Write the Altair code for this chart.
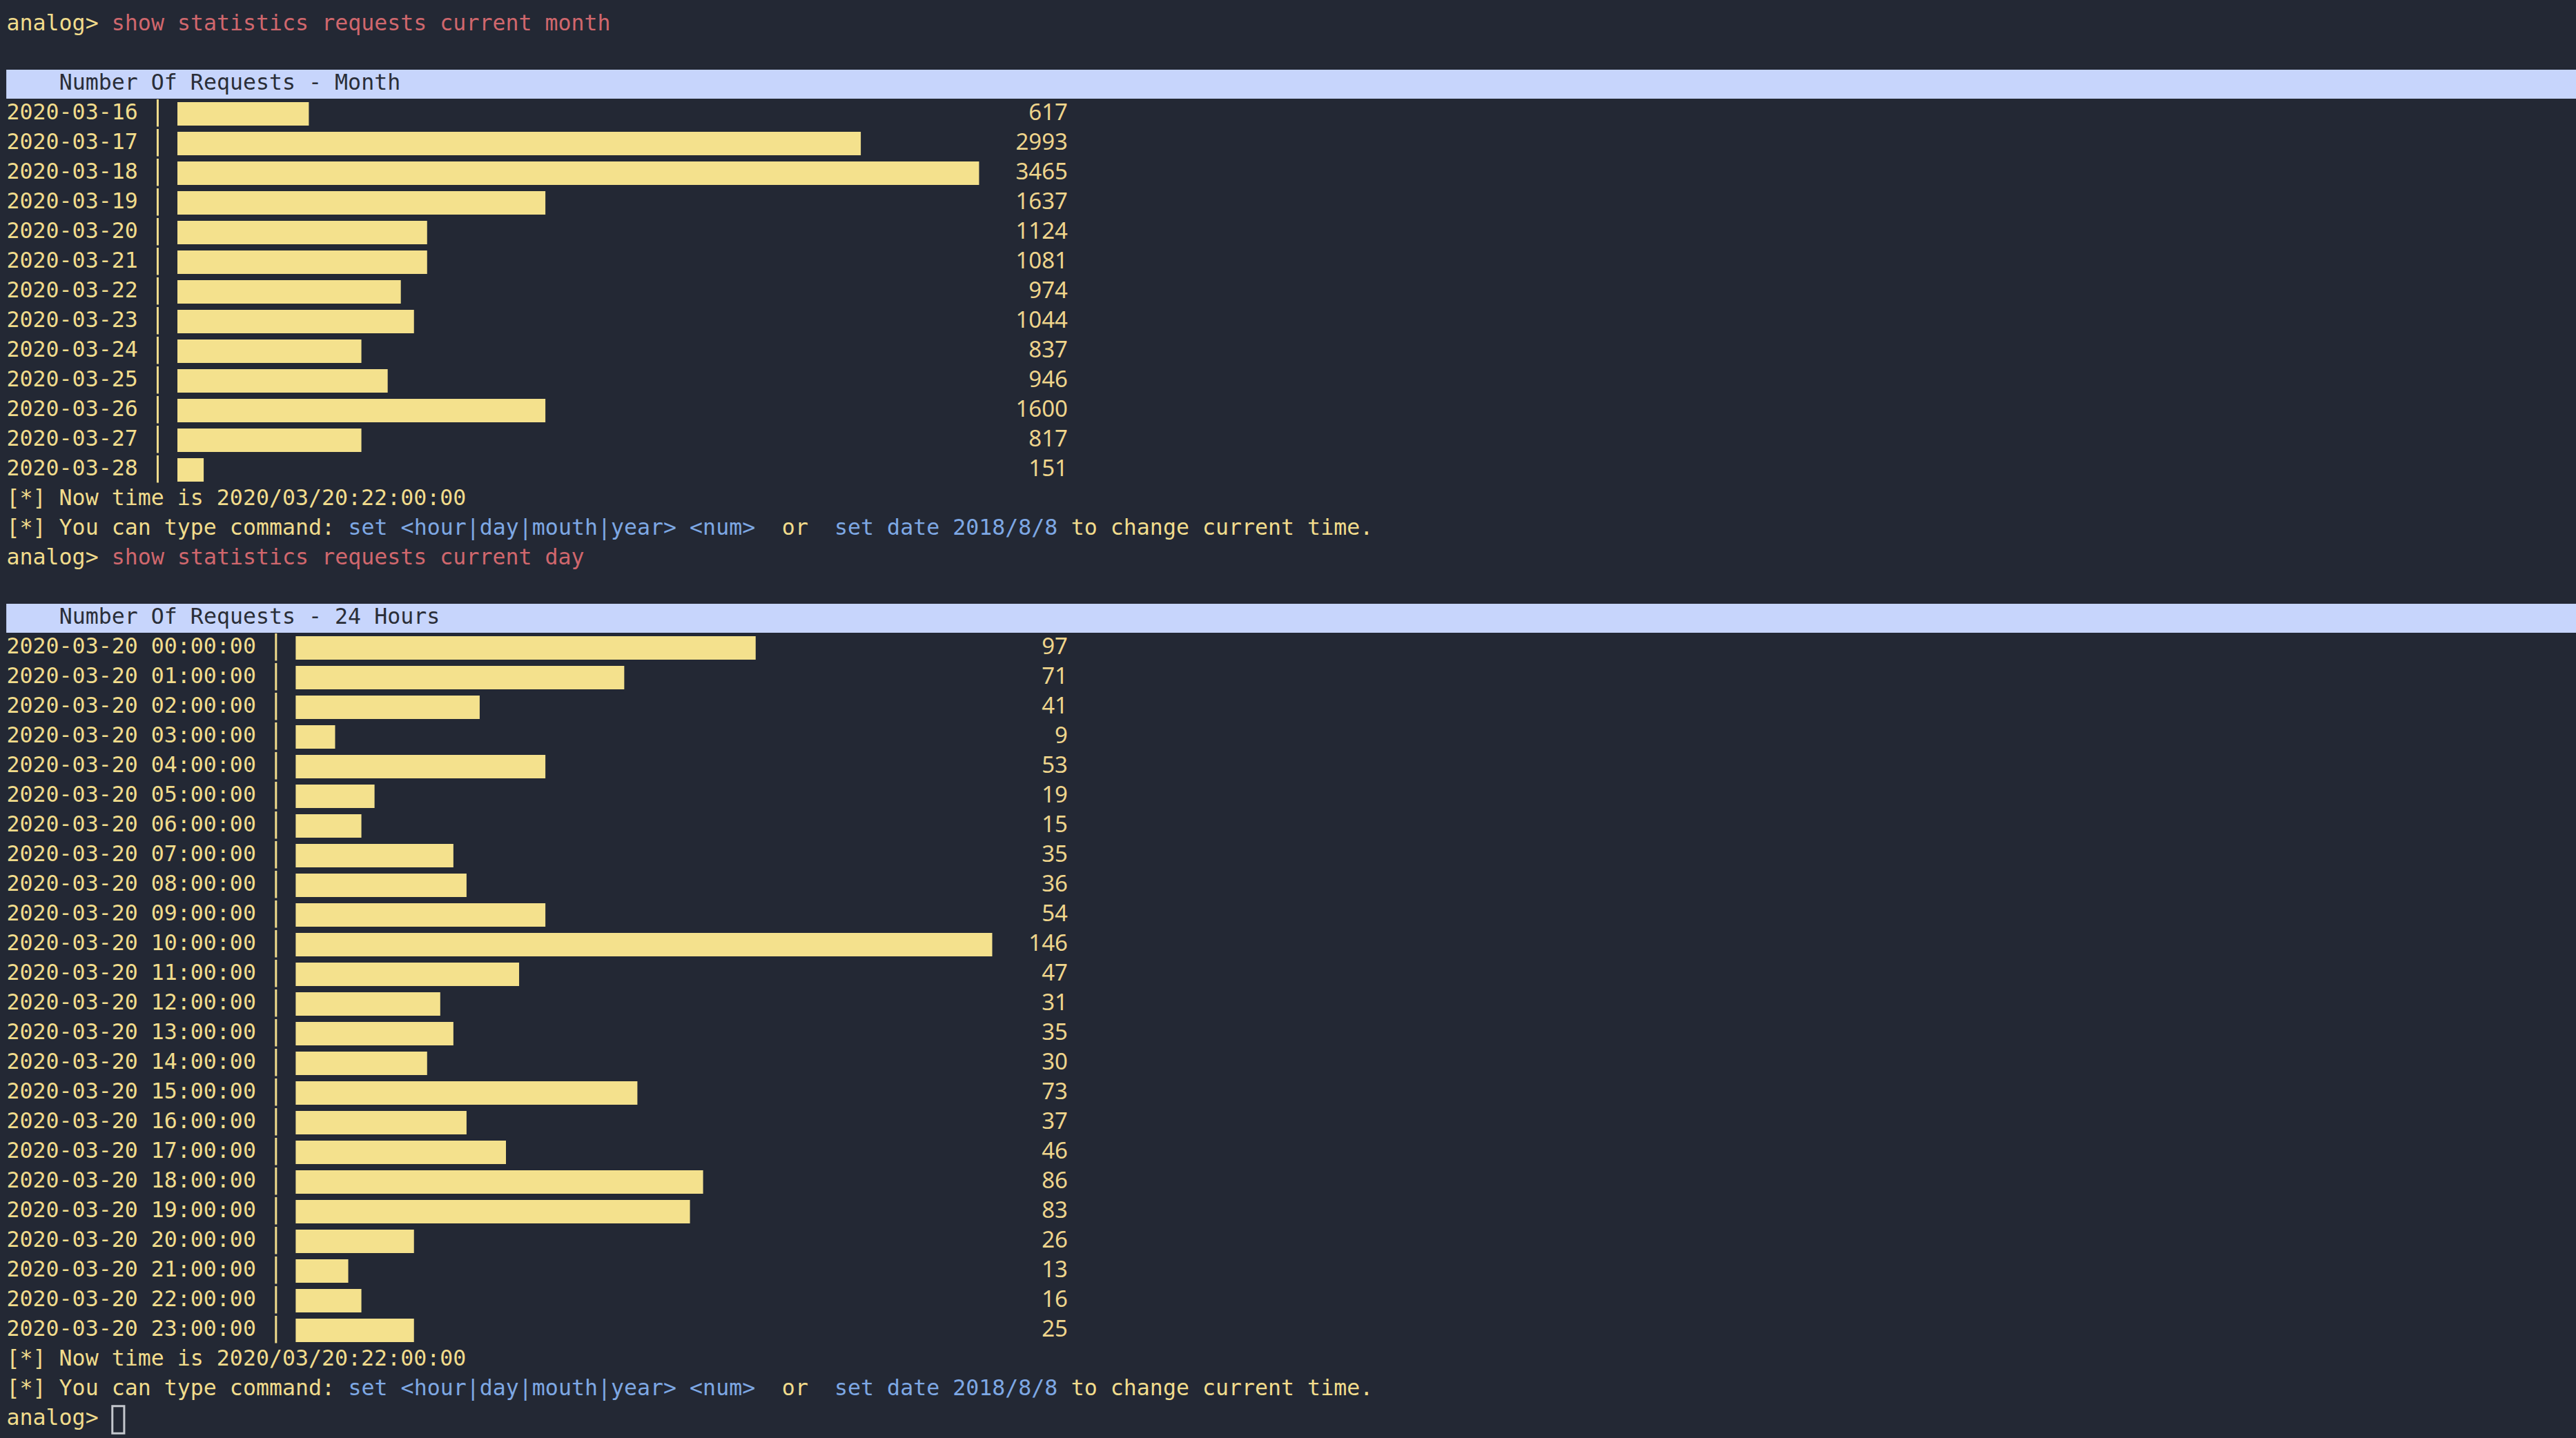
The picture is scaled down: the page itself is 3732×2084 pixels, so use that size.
import altair as alt
import pandas as pd

# ---------------- data ----------------
month_dates = ["2020-03-16", "2020-03-17", "2020-03-18", "2020-03-19", "2020-03-20",
               "2020-03-21", "2020-03-22", "2020-03-23", "2020-03-24", "2020-03-25",
               "2020-03-26", "2020-03-27", "2020-03-28"]
month_requests = [617, 2993, 3465, 1637, 1124, 1081, 974, 1044, 837, 946, 1600, 817, 151]

hour_labels = [f"2020-03-20 {h:02d}:00:00" for h in range(24)]
hour_requests = [97, 71, 41, 9, 53, 19, 15, 35, 36, 54, 146, 47, 31, 35, 30, 73,
                 37, 46, 86, 83, 26, 13, 16, 25]

prompt = "analog> "
commands = ["show statistics requests current month", "show statistics requests current day"]
titles = ["Number Of Requests - Month", "Number Of Requests - 24 Hours"]
now_line = "[*] Now time is 2020/03/20:22:00:00"
hint_segments = ["[*] You can type command: ", "set <hour|day|mouth|year> <num>", "  or  ",
                 "set date 2018/8/8", " to change current time."]
hint_is_cmd = [False, True, False, True, False]

# ---------------- layout (character grid) ----------------
W, H = 3732, 2084
CW = 19.04      # character width (px)
LH = 43.0       # line height (px)
X0 = 9.5        # left of column 0
Y0 = 33.0       # center of line 0

MONO = "DejaVu Sans Mono"
FS = 31.6
DY = 2

BG = "#232834"
YEL = "#f1dc8c"
BAR = "#f4e18d"
RED = "#d0676d"
BLUE = "#7ea8e4"
HDR = "#c7d5fc"
HDR_TXT = "#2a2e38"

yellow_rows, red_rows, blue_rows, hdr_rows = [], [], [], []
bar_rows, num_rows, sep_rows, band_rows = [], [], [], []


def put(rows, line, col, text):
    # SVG collapses whitespace: place the visible part at its true column
    lead = len(text) - len(text.lstrip(" "))
    if text.strip():
        rows.append({"line": line, "col": col + lead, "t": text.strip()})


line = 0
sections = [
    (month_dates, month_requests, 61, 11),
    (hour_labels, hour_requests, 53, 20),
]
for s, (labels, values, maxlen, sepcol) in enumerate(sections):
    put(yellow_rows, line, 0, prompt)
    put(red_rows, line, len(prompt), commands[s])
    line += 2
    band_rows.append({"line": line})
    put(hdr_rows, line, 4, titles[s])
    line += 1
    for lab, v in zip(labels, values):
        put(yellow_rows, line, 0, lab)
        sep_rows.append({"line": line, "col": sepcol + 0.5})
        bar_rows.append({"line": line, "start": sepcol + 2, "requests": v, "maxlen": maxlen,
                         "section": s})
        num_rows.append({"line": line, "col": 80.75, "t": str(v)})
        line += 1
    put(yellow_rows, line, 0, now_line)
    line += 1
    c = 0
    for seg, iscmd in zip(hint_segments, hint_is_cmd):
        put(blue_rows if iscmd else yellow_rows, line, c, seg)
        c += len(seg)
    line += 1

put(yellow_rows, line, 0, prompt)
cursor_rows = [{"line": line, "col": len(prompt)}]

xdom = [-X0 / CW, (W - X0) / CW]
ydom = [-Y0 / LH, (H - Y0) / LH]
xs = alt.Scale(domain=xdom, nice=False, zero=False)
ys = alt.Scale(domain=ydom, nice=False, zero=False, reverse=True)


def text_layer(rows, color, font=MONO, size=FS, align="left"):
    return alt.Chart(pd.DataFrame(rows)).mark_text(
        font=font, fontSize=size, color=color, align=align, baseline="middle", dy=DY
    ).encode(
        x=alt.X("col:Q", scale=xs, axis=None),
        y=alt.Y("line:Q", scale=ys, axis=None),
        text="t:N",
    )


band = alt.Chart(pd.DataFrame(band_rows)).transform_calculate(
    y1="datum.line - 0.42", y2="datum.line + 0.56", x1="-0.02", x2=str(xdom[1])
).mark_rect(color=HDR).encode(
    x=alt.X("x1:Q", scale=xs, axis=None), x2="x2:Q",
    y=alt.Y("y1:Q", scale=ys, axis=None), y2="y2:Q",
)

bars = alt.Chart(pd.DataFrame(bar_rows)).transform_joinaggregate(
    maxv="max(requests)", groupby=["section"]
).transform_calculate(
    end="datum.start + floor(datum.requests / datum.maxv * datum.maxlen)",
    y1="datum.line - 0.325", y2="datum.line + 0.465",
).mark_rect(color=BAR).encode(
    x=alt.X("start:Q", scale=xs, axis=None), x2="end:Q",
    y=alt.Y("y1:Q", scale=ys, axis=None), y2="y2:Q",
)

seps = alt.Chart(pd.DataFrame(sep_rows)).transform_calculate(
    y1="datum.line - 0.42", y2="datum.line + 0.5"
).mark_rule(color=YEL, strokeWidth=3).encode(
    x=alt.X("col:Q", scale=xs, axis=None),
    y=alt.Y("y1:Q", scale=ys, axis=None), y2="y2:Q",
)

cursor = alt.Chart(pd.DataFrame(cursor_rows)).transform_calculate(
    x1="datum.col + 0.05", x2="datum.col + 0.95",
    y1="datum.line - 0.38", y2="datum.line + 0.54",
).mark_rect(fill=BG, stroke="#c3c6cc", strokeWidth=3).encode(
    x=alt.X("x1:Q", scale=xs, axis=None), x2="x2:Q",
    y=alt.Y("y1:Q", scale=ys, axis=None), y2="y2:Q",
)

chart = alt.layer(
    band, bars, seps, cursor,
    text_layer(yellow_rows, YEL),
    text_layer(red_rows, RED),
    text_layer(blue_rows, BLUE),
    text_layer(hdr_rows, HDR_TXT),
    text_layer(num_rows, "#efd58c", font="Noto Sans", size=33, align="right"),
).properties(
    width=W, height=H, background=BG, padding=0,
    autosize=alt.AutoSizeParams(type="none"),
).configure_view(stroke=None)

chart.save("out.html", embed_options={"renderer": "svg", "actions": False})
